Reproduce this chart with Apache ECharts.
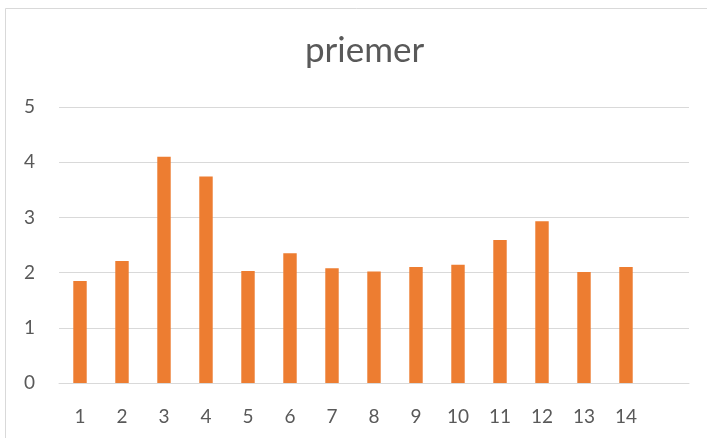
<!DOCTYPE html>
<html>
<head>
<meta charset="utf-8">
<script src="https://cdn.jsdelivr.net/npm/echarts@6/dist/echarts.min.js"></script>
<style>
  html, body { margin: 0; padding: 0; background: #ffffff; }
  #chart { width: 707px; height: 438px; }
</style>
</head>
<body>
<div id="chart"></div>
<script>
// Category labels (the last slot is an empty trailing category)
const categories = ['1', '2', '3', '4', '5', '6', '7', '8', '9', '10', '11', '12', '13', '14', ''];
// Average value per category
const priemerValues = [1.85, 2.21, 4.10, 3.74, 2.03, 2.35, 2.08, 2.02, 2.10, 2.14, 2.59, 2.93, 2.01, 2.10, null];
// Y axis range
const yTicks = { min: 0, max: 5, interval: 1 };

const chart = echarts.init(document.getElementById('chart'), null, { renderer: 'canvas' });

const textColor = '#595959';
const gridColor = '#d9d9d9';
const fontFamily = 'Lato, "Open Sans", sans-serif';

chart.setOption({
  animation: false,
  backgroundColor: '#ffffff',
  title: {
    text: 'priemer',
    left: 305,
    top: 33,
    padding: 0,
    textStyle: { color: textColor, fontSize: 35, fontWeight: 'normal', fontFamily: fontFamily }
  },
  graphic: [{
    type: 'rect',
    shape: { x: 5.5, y: 8.5, width: 720, height: 440 },
    style: { fill: 'none', stroke: gridColor, lineWidth: 1 },
    silent: true,
    z: -1
  }],
  grid: { left: 59, right: 18, top: 107, bottom: 55, containLabel: false },
  xAxis: {
    type: 'category',
    data: categories,
    axisLine: { show: true, lineStyle: { color: gridColor, width: 1 } },
    axisTick: { show: false },
    axisLabel: { color: textColor, fontSize: 19, fontFamily: fontFamily, margin: 24 },
    splitLine: { show: false }
  },
  yAxis: {
    type: 'value',
    min: yTicks.min,
    max: yTicks.max,
    interval: yTicks.interval,
    axisLine: { show: false },
    axisTick: { show: false },
    axisLabel: { color: textColor, fontSize: 19, fontFamily: fontFamily, margin: 24 },
    splitLine: { lineStyle: { color: gridColor, width: 1 } }
  },
  series: [{
    name: 'priemer',
    type: 'bar',
    data: priemerValues,
    barCategoryGap: '68%',
    itemStyle: { color: '#ED7D31' }
  }]
});
</script>
</body>
</html>
